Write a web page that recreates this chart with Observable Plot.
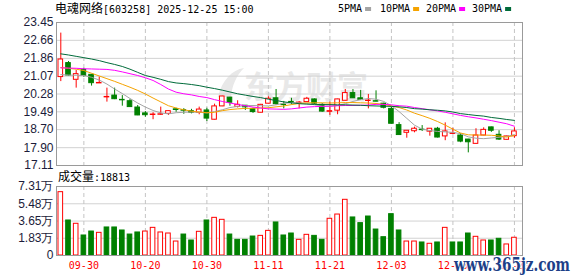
<!DOCTYPE html>
<html><head><meta charset="utf-8">
<script src="https://cdn.jsdelivr.net/npm/d3@7"></script>
<script src="https://cdn.jsdelivr.net/npm/@observablehq/plot@0.6"></script>
<style>
html,body{margin:0;padding:0;background:#fff;}
#wrap{position:relative;width:578px;height:276px;overflow:hidden;background:#fff;}
#wrap svg{position:absolute;left:0;}
</style></head><body><div id="wrap"></div>
<script>
const dates = ["09-25","09-26","09-29","09-30","10-09","10-10","10-13","10-14","10-15","10-16","10-17","10-20","10-21","10-22","10-23","10-24","10-27","10-28","10-29","10-30","10-31","11-03","11-04","11-05","11-06","11-07","11-10","11-11","11-12","11-13","11-14","11-17","11-18","11-19","11-20","11-21","11-24","11-25","11-26","11-27","11-28","12-01","12-02","12-03","12-04","12-05","12-08","12-09","12-10","12-11","12-12","12-15","12-16","12-17","12-18","12-19","12-22","12-23","12-24","12-25"];
const open  = [21.03,21.65,20.91,21.35,21.13,20.75,20.13,20.21,20.02,19.96, 19.68,19.42,19.35,19.36,19.40,19.60,19.56,19.52,19.45,19.55, 19.14,19.73,20.12,19.71,19.76,19.61,19.45,19.85,20.09,19.81, 19.93,19.88,19.92,20.04,19.80,19.49,19.54,19.98,20.32,20.09, 19.97,19.96,19.85,19.62,18.90,18.56,18.63,18.70,18.61,18.74, 18.40,18.51,18.44,18.26,18.07,18.44,18.80,18.47,18.25,18.41];
const close = [21.81,21.10,21.16,21.08,20.76,20.77,20.15,20.05,20.00,19.70, 19.33,19.34,19.37,19.38,19.52,19.57,19.54,19.45,19.59,19.19, 19.73,20.17,19.89,19.80,19.69,19.48,19.80,20.07,19.83,19.79, 19.91,19.90,20.07,19.85,19.50,19.52,20.04,20.32,20.09,20.02, 19.99,19.94,19.67,18.96,18.46,18.65,18.74,18.68,18.74,18.35, 18.62,18.53,18.17,18.14,18.44,18.69,18.65,18.26,18.40,18.62];
const high  = [22.98,21.72,21.32,21.42,21.15,21.03,20.54,20.54,20.21,20.04, 19.77,19.50,19.45,19.70,19.53,19.65,19.63,19.60,19.70,19.65, 19.83,20.18,20.13,19.98,19.77,19.65,19.82,20.16,20.48,19.95, 20.09,19.95,20.13,20.06,19.85,19.92,20.05,20.48,20.48,20.44, 20.26,20.42,19.87,19.70,19.01,18.66,18.81,18.88,18.75,18.80, 19.00,18.76,18.53,18.27,18.74,18.78,18.81,18.65,18.41,18.78];
const low   = [20.83,21.08,20.54,21.02,20.63,20.75,19.92,20.03,19.74,19.69, 19.32,19.25,19.14,19.33,19.33,19.47,19.38,19.40,19.36,19.06, 19.13,19.72,19.74,19.66,19.55,19.42,19.44,19.84,19.78,19.62, 19.80,19.62,19.91,19.80,19.47,19.33,19.36,19.97,20.08,20.00, 19.62,19.93,19.62,18.95,18.44,18.32,18.56,18.62,18.41,18.33, 18.21,18.50,18.12,17.67,18.06,18.43,18.58,18.22,18.24,18.32];
const ma5  = [21.14,21.12,21.11,21.10,21.02,20.90,20.72,20.50,20.30,20.08, 19.88,19.70,19.55,19.44,19.40,19.45,19.47,19.48,19.47,19.44, 19.50,19.58,19.68,19.73,19.76,19.77,19.76,19.75,19.80,19.87, 19.89,19.89,19.86,19.80,19.74,19.74,19.77,19.85,19.95,20.03, 20.08,20.05,19.95,19.76,19.50,19.20,18.90,18.72,18.66,18.62, 18.60,18.58,18.52,18.38,18.32,18.30,18.33,18.36,18.40,18.48];
const ma10 = [21.45,21.42,21.38,21.32,21.20,21.08,20.96,20.84,20.71,20.58, 20.44,20.28,20.10,19.93,19.76,19.66,19.58,19.52,19.48,19.45, 19.47,19.54,19.59,19.62,19.64,19.65,19.66,19.67,19.71,19.75, 19.81,19.86,19.89,19.89,19.89,19.88,19.89,19.90,19.90,19.89, 19.88,19.86,19.82,19.75,19.68,19.57,19.43,19.32,19.20,19.06, 18.90,18.72,18.55,18.47,18.46,18.46,18.45,18.42,18.37,18.44];
const ma20 = [21.44,21.43,21.42,21.40,21.39,21.38,21.37,21.33,21.26,21.18, 21.10,21.00,20.88,20.70,20.50,20.36,20.29,20.24,20.17,20.12, 20.03,19.95,19.88,19.82,19.76,19.70,19.66,19.62,19.61,19.60, 19.62,19.66,19.70,19.72,19.73,19.74,19.76,19.77,19.77,19.78, 19.79,19.82,19.82,19.80,19.76,19.74,19.68,19.63,19.58,19.53, 19.47,19.40,19.33,19.27,19.22,19.16,19.10,19.03,18.96,18.85];
const ma30 = [22.06,22.01,21.95,21.89,21.83,21.76,21.67,21.59,21.50,21.38, 21.24,21.10,21.02,20.93,20.83,20.77,20.74,20.70,20.65,20.58, 20.52,20.45,20.37,20.29,20.23,20.17,20.12,20.05,19.99,19.93, 19.89,19.85,19.83,19.82,19.81,19.81,19.80,19.80,19.79,19.78, 19.76,19.75,19.74,19.73,19.71,19.68,19.63,19.61,19.58,19.56, 19.53,19.48,19.41,19.37,19.33,19.30,19.24,19.20,19.15,19.11];
const volume = [6.71,3.71,3.36,2.12,2.54,2.40,2.97,2.97,2.65,2.22, 2.44,2.54,2.93,2.44,2.33,1.48,2.22,1.59,2.51,3.71, 3.99,3.78,2.22,1.66,1.66,2.01,2.08,2.61,3.50,2.12, 2.33,1.66,2.19,2.08,1.66,3.89,4.34,5.90,4.03,3.43, 4.13,2.75,1.94,4.38,2.65,1.48,1.48,1.38,1.24,1.38, 2.93,1.38,1.38,2.33,1.98,1.59,1.59,1.77,1.17,1.88];
const volUp = [1,0,1,0,0,1,0,0,0,0, 0,1,1,1,1,1,0,0,1,0, 1,1,0,0,0,0,1,1,0,0, 0,1,1,0,0,1,1,1,0,0, 0,0,0,0,0,1,1,0,1,0, 1,0,0,0,1,1,0,0,1,1];
const lastVolume = 18813;
const priceTicks = [23.45,22.66,21.86,21.07,20.28,19.49,18.70,17.90,17.11];
const volTicks = [0,1.83,3.65,5.48,7.31];
const dateTicks = ["09-30","10-20","10-30","11-11","11-21","12-03","12-15","12-25"];
const maNames = ["5PMA","10PMA","20PMA","30PMA"];
const maColors = ["#a4a4a4","#f5a300","#ff00ff","#006b3a"];

const RED = "#ff0000", GREEN = "#008000";
const data = dates.map((d, i) => ({
  i, date: d, open: open[i], close: close[i], high: high[i], low: low[i],
  ma5: ma5[i], ma10: ma10[i], ma20: ma20[i], ma30: ma30[i],
  vol: volume[i], up: volUp[i] === 1
}));
const xDomain = [-0.56, 60.05];
const tickIdx = dateTicks.map(t => dates.indexOf(t));
const hw = 0.3;
const isUp = d => d.close >= d.open;
const baseStyle = {background: "transparent", fontFamily: "'Liberation Sans', Arial, sans-serif", fontSize: "12px", overflow: "visible"};

const price = Plot.plot({
  width: 578, height: 170, marginLeft: 56, marginRight: 56, marginTop: 22, marginBottom: 5,
  style: baseStyle,
  x: {domain: xDomain, axis: null},
  y: {domain: [17.11, 23.45], axis: null},
  color: {type: "identity"},
  marks: [
    Plot.gridY({ticks: priceTicks, stroke: "#d2d2d2", strokeOpacity: 1}),
    Plot.gridX({ticks: tickIdx, stroke: "#c4c4c4", strokeOpacity: 1, strokeDasharray: "4,3"}),
    Plot.axisY({ticks: priceTicks, label: null, tickSize: 0, tickPadding: 3, tickFormat: d => d.toFixed(2), fill: "#1c1c3a", fontSize: 12}),
    Plot.ruleX(data, {x: "i", y1: "low", y2: "high", stroke: d => isUp(d) ? RED : GREEN, strokeWidth: 1}),
    Plot.rect(data, {x1: d => d.i - hw, x2: d => d.i + hw, y1: "open", y2: "close",
      fill: d => isUp(d) ? "#ffffff" : GREEN, stroke: d => isUp(d) ? RED : GREEN, strokeWidth: 1}),
    Plot.line(data, {x: "i", y: "ma5", stroke: maColors[0], strokeWidth: 1}),
    Plot.line(data, {x: "i", y: "ma10", stroke: maColors[1], strokeWidth: 1}),
    Plot.line(data, {x: "i", y: "ma20", stroke: maColors[2], strokeWidth: 1}),
    Plot.line(data, {x: "i", y: "ma30", stroke: maColors[3], strokeWidth: 1}),
    Plot.frame({stroke: "#9a9a9a"})
  ]
});
price.style.top = "0px";

const vol = Plot.plot({
  width: 578, height: 106, marginLeft: 56, marginRight: 56, marginTop: 16, marginBottom: 21,
  style: baseStyle,
  x: {domain: xDomain, axis: null},
  y: {domain: [0, 7.31], axis: null},
  color: {type: "identity"},
  marks: [
    Plot.gridY({ticks: volTicks, stroke: "#d2d2d2", strokeOpacity: 1}),
    Plot.gridX({ticks: tickIdx, stroke: "#c4c4c4", strokeOpacity: 1, strokeDasharray: "4,3"}),
    Plot.axisY({ticks: volTicks, label: null, tickSize: 0, tickPadding: 3, tickFormat: d => d === 0 ? "0" : d.toFixed(2) + "万", fill: "#1c1c3a", fontSize: 12}),
    Plot.axisX({ticks: tickIdx, label: null, tickSize: 0, tickPadding: 6, tickFormat: i => dates[i], fill: RED, fontSize: 10, fontFamily: "'DejaVu Sans Mono', monospace"}),
    Plot.rect(data, {x1: d => d.i - hw, x2: d => d.i + hw, y1: 0, y2: "vol",
      fill: d => d.up ? "#ffffff" : GREEN, stroke: d => d.up ? RED : GREEN, strokeWidth: 1}),
    Plot.frame({stroke: "#9a9a9a"})
  ]
});
vol.style.top = "170px";

const wrap = document.getElementById("wrap");
// faint background watermark
const bg = d3.create("svg").attr("width", 578).attr("height", 276).style("top", "0px");
bg.append("text").attr("x", 244).attr("y", 98).attr("font-size", 31).attr("font-weight", "bold")
  .attr("font-family", "'Noto Sans CJK SC', sans-serif").attr("fill", "#e8e8e8").text("东方财富");
bg.append("path").attr("d", "M218,97 C222,80 232,70 244,68 C236,76 232,86 231,97 Z").attr("fill", "#e8e8e8");
wrap.appendChild(bg.node());
wrap.appendChild(price);
wrap.appendChild(vol);

// titles, legend and overlay text
const ov = d3.create("svg").attr("width", 578).attr("height", 276).style("top", "0px");
const title = ov.append("text").attr("x", 55).attr("y", 13).attr("fill", "#000");
title.append("tspan").attr("font-family", "'Noto Sans CJK SC', sans-serif").attr("font-size", 12).text("电魂网络");
title.append("tspan").attr("font-family", "'DejaVu Sans Mono', monospace").attr("font-size", 10).text("[603258] 2025-12-25 15:00");

const legX = [338, 380, 426, 472];
maNames.forEach((n, k) => {
  ov.append("text").attr("x", legX[k]).attr("y", 12).attr("font-family", "'DejaVu Sans Mono', monospace")
    .attr("font-size", 10).attr("fill", "#000").text(n);
  const w = n.length * 6.02;
  ov.append("rect").attr("x", legX[k] + w + 3).attr("y", 7).attr("width", 6).attr("height", 4).attr("fill", maColors[k]);
});

const vt = ov.append("text").attr("x", 58).attr("y", 181).attr("fill", "#000");
vt.append("tspan").attr("font-family", "'Noto Sans CJK SC', sans-serif").attr("font-size", 12).text("成交量");
vt.append("tspan").attr("font-family", "'DejaVu Sans Mono', monospace").attr("font-size", 10).text(":" + lastVolume);

ov.append("text").attr("x", 454).attr("y", 271).attr("font-family", "'DejaVu Serif', serif").attr("font-weight", "bold")
  .attr("font-size", 18).attr("textLength", 116).attr("lengthAdjust", "spacingAndGlyphs")
  .attr("fill", "#1d3f88").attr("stroke", "#fff").attr("stroke-width", 2.5).attr("paint-order", "stroke")
  .text("www.365jz.com");
wrap.appendChild(ov.node());
</script>
</body></html>
